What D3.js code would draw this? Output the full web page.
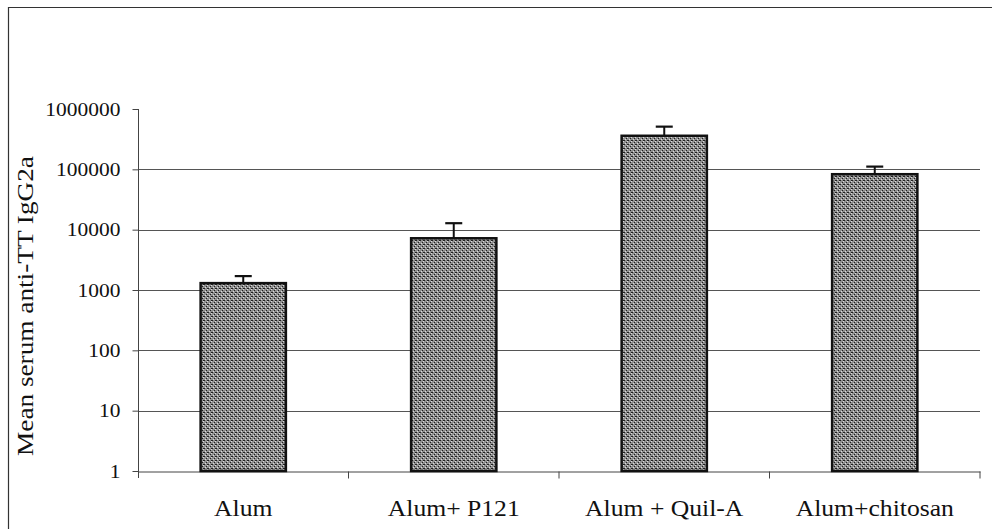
<!DOCTYPE html>
<html>
<head>
<meta charset="utf-8">
<script src="https://cdn.jsdelivr.net/npm/d3@7"></script>
<style>
    body { margin: 0; background: #fff; }
    svg { display: block; }
    text { font-family: "Liberation Serif", "Times New Roman", serif; fill: #111; }
</style>
</head>
<body>
<script>
// values (log scale)
const categories = ['Alum', 'Alum+ P121', 'Alum + Quil-A', 'Alum+chitosan'];
const means = [1300, 7200, 360000, 83000];
const upperErrors = [1700, 12800, 510000, 111000];
const yTicks = [1, 10, 100, 1000, 10000, 100000, 1000000];
const yTitle = 'Mean serum anti-TT IgG2a';

const width = 992,
    height = 529;

const svg = d3.select('body')
    .append('svg')
    .attr('width', width)
    .attr('height', height);

// frame of the scanned figure (only top and left edges visible)
svg.append('path')
    .attr('d', 'M8.5,' + height + ' V7.5 H' + width)
    .attr('fill', 'none')
    .attr('stroke', '#333')
    .attr('stroke-width', 1.2);

const plot = {left: 138, right: 980, top: 109, bottom: 471};

const y = d3.scaleLog()
    .domain([1, 1000000])
    .range([plot.bottom, plot.top]);

const x = d3.scaleBand()
    .domain(categories)
    .range([plot.left, plot.right]);

// grey dotted fill used by the bars
const defs = svg.append('defs');
const pat = defs.append('pattern')
    .attr('id', 'dots')
    .attr('patternUnits', 'userSpaceOnUse')
    .attr('width', 4)
    .attr('height', 4);
pat.append('rect').attr('width', 4).attr('height', 4).attr('fill', '#8f8f8f');
[[0, 0], [2, 2], [3, 0]].forEach(([px, py]) => {
    pat.append('rect').attr('x', px).attr('y', py).attr('width', 1).attr('height', 1).attr('fill', '#202020');
});
[[1, 3], [3, 1]].forEach(([px, py]) => {
    pat.append('rect').attr('x', px).attr('y', py).attr('width', 1).attr('height', 1).attr('fill', '#dcdcdc');
});

// gridlines (no line at the top decade)
svg.append('g')
    .selectAll('line')
    .data(yTicks.filter(d => d > 1 && d < 1000000))
    .enter().append('line')
    .attr('x1', plot.left)
    .attr('x2', plot.right)
    .attr('y1', d => Math.round(y(d)) + 0.5)
    .attr('y2', d => Math.round(y(d)) + 0.5)
    .attr('stroke', '#555')
    .attr('stroke-width', 1.1);

// y axis
const yAxis = svg.append('g')
    .attr('transform', 'translate(' + (plot.left + 0.5) + ',0)')
    .call(d3.axisLeft(y)
        .tickValues(yTicks)
        .tickFormat(d3.format('d'))
        .tickSize(6)
        .tickPadding(10))
    .style('font-family', '"Liberation Serif", serif');
yAxis.select('.domain').attr('stroke', '#444').attr('d', 'M0,' + plot.top + ' V' + (plot.bottom + 7));
yAxis.selectAll('.tick line').attr('stroke', '#444');
yAxis.selectAll('.tick text')
    .style('font-size', '19px')
    .attr('dy', '0.33em')
    .attr('transform', 'scale(1.13,1)');

// x axis: labels under each band, tick marks on band boundaries
const xAxis = svg.append('g')
    .attr('transform', 'translate(0,' + (plot.bottom + 0.5) + ')')
    .call(d3.axisBottom(x).tickSize(0).tickPadding(29))
    .style('font-family', '"Liberation Serif", serif');
xAxis.select('.domain').attr('stroke', '#444');
xAxis.selectAll('.tick text')
    .style('font-size', '22.5px')
    .attr('transform', 'scale(1.14,1)');
xAxis.selectAll('.boundary')
    .data(categories)
    .enter().append('line')
    .attr('class', 'boundary')
    .attr('x1', d => x(d) + x.bandwidth())
    .attr('x2', d => x(d) + x.bandwidth())
    .attr('y1', 0)
    .attr('y2', 7)
    .attr('stroke', '#444');

// bars
const barW = x.bandwidth() * 0.405;
const bars = svg.append('g')
    .selectAll('.bar')
    .data(categories.map((c, i) => ({name: c, value: means[i], upper: upperErrors[i]})))
    .enter().append('g')
    .attr('class', 'bar');

// error bars (upper only), drawn before the bar so the stem starts at the top edge
bars.append('line')
    .attr('x1', d => x(d.name) + x.bandwidth() / 2)
    .attr('x2', d => x(d.name) + x.bandwidth() / 2)
    .attr('y1', d => y(d.value))
    .attr('y2', d => y(d.upper))
    .attr('stroke', '#111')
    .attr('stroke-width', 2);
bars.append('line')
    .attr('x1', d => x(d.name) + x.bandwidth() / 2 - 8.5)
    .attr('x2', d => x(d.name) + x.bandwidth() / 2 + 8.5)
    .attr('y1', d => y(d.upper))
    .attr('y2', d => y(d.upper))
    .attr('stroke', '#111')
    .attr('stroke-width', 2.2);

bars.append('rect')
    .attr('x', d => x(d.name) + (x.bandwidth() - barW) / 2)
    .attr('width', barW)
    .attr('y', d => y(d.value))
    .attr('height', d => y(1) - y(d.value))
    .attr('fill', 'url(#dots)')
    .attr('stroke', '#111')
    .attr('stroke-width', 2.5);

// y axis title
svg.append('text')
    .attr('transform', 'translate(33,306) rotate(-90) scale(1.16,1)')
    .attr('text-anchor', 'middle')
    .style('font-size', '23.5px')
    .text(yTitle);
</script>
</body>
</html>
